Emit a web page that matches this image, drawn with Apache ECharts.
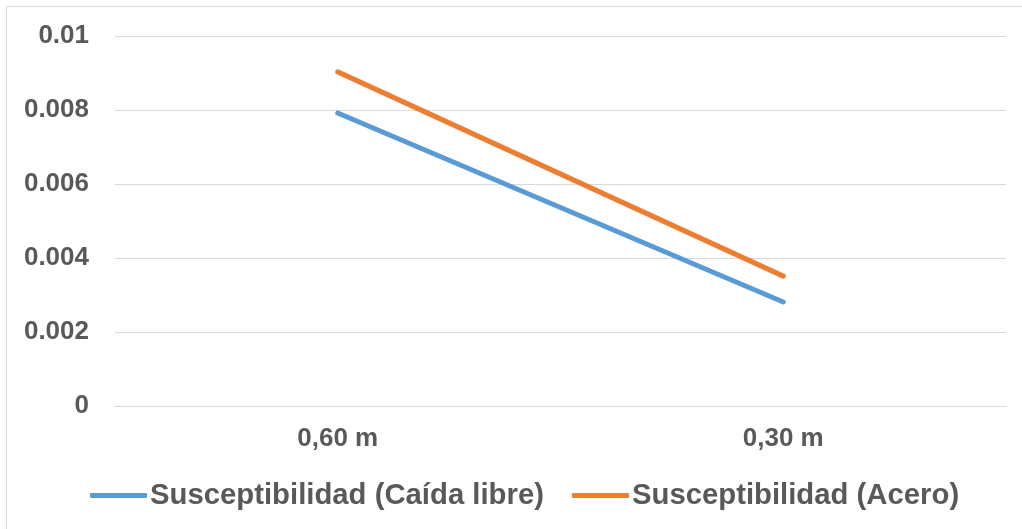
<!DOCTYPE html>
<html>
<head>
<meta charset="utf-8">
<script src="https://cdn.jsdelivr.net/npm/echarts@6/dist/echarts.min.js"></script>
<style>
html,body{margin:0;padding:0;background:#fff;}
#c{width:1022px;height:529px;}
</style>
</head>
<body>
<div id="c"></div>
<script>
var categories = ['0,60 m', '0,30 m'];
var seriesNames = ['Susceptibilidad (Caída libre)', 'Susceptibilidad (Acero)'];
var caidaLibre = [0.00792, 0.00281];
var acero = [0.00903, 0.00351];

var chart = echarts.init(document.getElementById('c'), null, {renderer: 'canvas'});
var textColor = '#595959';
var font = '"Liberation Sans", Arial, sans-serif';
chart.setOption({
  animation: false,
  backgroundColor: '#fff',
  graphic: [{
    type: 'rect',
    shape: {x: 6.5, y: 6.5, width: 1100, height: 600},
    style: {fill: 'none', stroke: '#d9d9d9', lineWidth: 1},
    silent: true
  }],
  grid: {left: 115, right: 16, top: 36, bottom: 123, containLabel: false},
  legend: {
    bottom: 14,
    left: 85,
    itemWidth: 57,
    itemHeight: 5,
    itemGap: 28,
    textStyle: {color: textColor, fontSize: 29.3, fontWeight: 'bold', fontFamily: font, padding: [0, 0, 0, -2]},
    icon: 'roundRect',
    data: seriesNames
  },
  xAxis: {
    type: 'category',
    data: categories,
    boundaryGap: true,
    axisLine: {show: true, lineStyle: {color: '#d9d9d9', width: 1}},
    axisTick: {show: false},
    axisLabel: {color: textColor, fontSize: 26, fontWeight: 'bold', fontFamily: font, margin: 20}
  },
  yAxis: {
    type: 'value',
    min: 0,
    max: 0.01,
    interval: 0.002,
    axisLine: {show: false},
    axisTick: {show: false},
    splitLine: {lineStyle: {color: '#d9d9d9', width: 1}},
    axisLabel: {
      color: textColor, fontSize: 26, fontWeight: 'bold', fontFamily: font, margin: 26,
      formatter: function (v) { return v === 0 ? '0' : String(parseFloat(v.toFixed(4))); }
    }
  },
  series: [
    {
      name: seriesNames[0], type: 'line', data: caidaLibre,
      symbol: 'none', showSymbol: false,
      lineStyle: {color: '#5b9bd5', width: 5, cap: 'round'},
      itemStyle: {color: '#5b9bd5'}
    },
    {
      name: seriesNames[1], type: 'line', data: acero,
      symbol: 'none', showSymbol: false,
      lineStyle: {color: '#ed7d31', width: 5, cap: 'round'},
      itemStyle: {color: '#ed7d31'}
    }
  ]
});
</script>
</body>
</html>
